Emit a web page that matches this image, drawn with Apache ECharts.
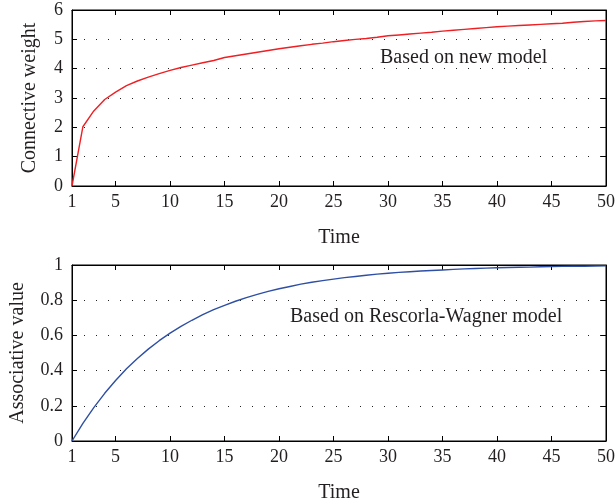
<!DOCTYPE html>
<html>
<head>
<meta charset="utf-8">
<script src="https://cdn.jsdelivr.net/npm/echarts@6/dist/echarts.min.js"></script>
<style>
html,body{margin:0;padding:0;background:#fff;}
#c{width:616px;height:502px;}
</style>
</head>
<body>
<div id="c"></div>
<script>
var timeSteps = [];
for (var t = 1; t <= 50; t++) timeSteps.push(t);
var xTicks = [1, 5, 10, 15, 20, 25, 30, 35, 40, 45, 50];

var newModel = [0, 2.02, 2.56, 2.95, 3.2, 3.42, 3.58, 3.71, 3.83, 3.94,
  4.04, 4.12, 4.2, 4.28, 4.38, 4.44, 4.5, 4.56, 4.62, 4.68,
  4.73, 4.78, 4.83, 4.87, 4.92, 4.96, 5.0, 5.03, 5.07, 5.12,
  5.15, 5.18, 5.21, 5.24, 5.28, 5.31, 5.34, 5.37, 5.4, 5.43,
  5.45, 5.47, 5.49, 5.51, 5.53, 5.55, 5.58, 5.61, 5.63, 5.64];

var rwModel = [0, 0.1, 0.19, 0.271, 0.344, 0.41, 0.469, 0.522, 0.57, 0.613,
  0.651, 0.686, 0.718, 0.746, 0.771, 0.794, 0.815, 0.833, 0.85, 0.865,
  0.878, 0.891, 0.902, 0.911, 0.92, 0.928, 0.935, 0.942, 0.948, 0.953,
  0.958, 0.962, 0.966, 0.969, 0.972, 0.975, 0.978, 0.98, 0.982, 0.984,
  0.986, 0.987, 0.988, 0.99, 0.991, 0.992, 0.993, 0.993, 0.994, 0.995];

var topTitle = 'Based on new model';
var bottomTitle = 'Based on Rescorla-Wagner model';
var xName = 'Time';
var topYName = 'Connective weight';
var bottomYName = 'Associative value';

var FONT = '"Liberation Serif", "DejaVu Serif", serif';
var TXT = '#231f20';

function pairs(ys) { return timeSteps.map(function (x, i) { return [x, ys[i]]; }); }

function xAxisPair(gi) {
  return [{
    type: 'value', gridIndex: gi, min: 1, max: 50, position: 'bottom',
    name: xName, nameLocation: 'middle', nameGap: 42,
    nameTextStyle: {fontFamily: FONT, fontSize: 20, color: TXT},
    axisLine: {show: true, onZero: false, lineStyle: {color: '#000', width: 1}},
    axisTick: {show: true, inside: true, length: 5, customValues: xTicks, lineStyle: {color: '#000', width: 1}},
    axisLabel: {customValues: xTicks, margin: 7, fontFamily: FONT, fontSize: 18, color: TXT},
    splitLine: {show: false}
  }, {
    type: 'value', gridIndex: gi, min: 1, max: 50, position: 'top',
    axisLine: {show: true, onZero: false, lineStyle: {color: '#000', width: 1}},
    axisTick: {show: true, inside: true, length: 5, customValues: xTicks, lineStyle: {color: '#000', width: 1}},
    axisLabel: {show: false},
    splitLine: {show: false}
  }];
}

function yAxisPair(gi, max, interval, name, gap) {
  return [{
    type: 'value', gridIndex: gi, min: 0, max: max, interval: interval, position: 'left',
    name: name, nameLocation: 'middle', nameGap: gap,
    nameTextStyle: {fontFamily: FONT, fontSize: 20, color: TXT},
    axisLine: {show: true, onZero: false, lineStyle: {color: '#000', width: 1}},
    axisTick: {show: true, inside: true, length: 5, lineStyle: {color: '#000', width: 1}},
    axisLabel: {margin: 9, fontFamily: FONT, fontSize: 18, color: TXT},
    splitLine: {show: true, lineStyle: {color: '#222', width: 1, type: [1, 11]}}
  }, {
    type: 'value', gridIndex: gi, min: 0, max: max, interval: interval, position: 'right',
    axisLine: {show: true, onZero: false, lineStyle: {color: '#000', width: 1}},
    axisTick: {show: true, inside: true, length: 5, lineStyle: {color: '#000', width: 1}},
    axisLabel: {show: false},
    splitLine: {show: false}
  }];
}

var chart = echarts.init(document.getElementById('c'), null, {renderer: 'canvas'});
chart.setOption({
  animation: false,
  backgroundColor: '#fff',
  grid: [
    {left: 72, top: 10, right: 10, height: 176, containLabel: false, outerBoundsMode: 'none',
     show: true, borderColor: '#000', borderWidth: 1, backgroundColor: 'transparent'},
    {left: 72, top: 265, right: 10, height: 176, containLabel: false, outerBoundsMode: 'none',
     show: true, borderColor: '#000', borderWidth: 1, backgroundColor: 'transparent'}
  ],
  xAxis: xAxisPair(0).concat(xAxisPair(1)),
  yAxis: yAxisPair(0, 6, 1, topYName, 32).concat(yAxisPair(1, 1, 0.2, bottomYName, 44)),
  graphic: [
    {type: 'text', left: 380, top: 48, style: {text: topTitle, font: '20px ' + FONT, fill: TXT}},
    {type: 'text', left: 290, top: 307, style: {text: bottomTitle, font: '20px ' + FONT, fill: TXT}}
  ],
  series: [
    {type: 'line', xAxisIndex: 0, yAxisIndex: 0, data: pairs(newModel), showSymbol: false,
     lineStyle: {color: '#ee2024', width: 1.4}, itemStyle: {color: '#ee2024'}},
    {type: 'line', xAxisIndex: 2, yAxisIndex: 2, data: pairs(rwModel), showSymbol: false,
     lineStyle: {color: '#2e4fa3', width: 1.4}, itemStyle: {color: '#2e4fa3'}}
  ]
});
</script>
</body>
</html>
